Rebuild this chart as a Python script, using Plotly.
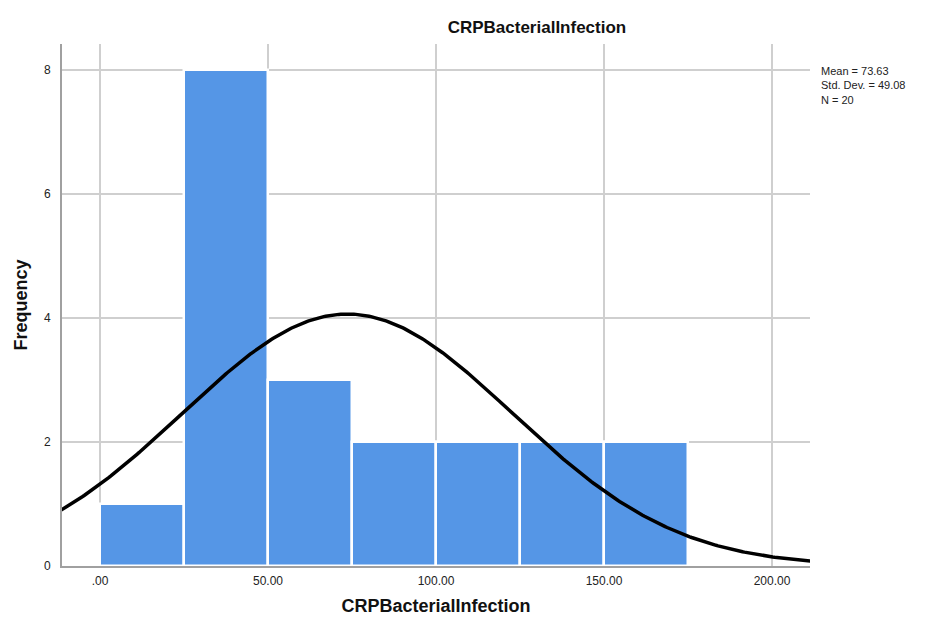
import numpy as np
import plotly.graph_objects as go

# Data
bin_starts = [0, 25, 50, 75, 100, 125, 150]
bin_width = 25
frequencies = [1, 8, 3, 2, 2, 2, 2]
mean_val = 73.63
sd_val = 49.08
n_val = 20
x_tick_vals = [0, 50, 100, 150, 200]
x_tick_text = [".00", "50.00", "100.00", "150.00", "200.00"]
y_tick_vals = [0, 2, 4, 6, 8]

centers = [s + bin_width / 2 for s in bin_starts]

xs = np.linspace(-12, 212, 400)
ys = n_val * bin_width / (sd_val * np.sqrt(2 * np.pi)) * np.exp(-0.5 * ((xs - mean_val) / sd_val) ** 2)

fig = go.Figure()
fig.add_trace(go.Bar(
    x=centers, y=frequencies, width=[bin_width] * len(centers),
    marker=dict(color="#5596E6", line=dict(color="white", width=2.5)),
    showlegend=False, hoverinfo="x+y",
))
fig.add_trace(go.Scatter(
    x=xs, y=ys, mode="lines", line=dict(color="black", width=3.5),
    showlegend=False, hoverinfo="skip",
))

fig.update_layout(
    width=928, height=626,
    margin=dict(l=54, r=126, t=36, b=68),
    paper_bgcolor="white", plot_bgcolor="white",
    font=dict(family="Liberation Sans, Arial, sans-serif", color="#222"),
    bargap=0,
    title=dict(text="<b>CRPBacterialInfection</b>", x=0.570, xanchor="center", y=0.97, yanchor="middle",
               font=dict(size=17, color="#111")),
    xaxis=dict(
        range=[-11.3, 211.3], tickvals=x_tick_vals, ticktext=x_tick_text,
        showgrid=True, gridcolor="#cfcfcf", gridwidth=1.5,
        showline=True, linecolor="#a0a0a0", linewidth=2,
        zeroline=False, ticks="", tickfont=dict(size=12, color="#222"),
        ticklabelstandoff=3,
        title=dict(text="<b>CRPBacterialInfection</b>", font=dict(size=18, color="#111"), standoff=12),
    ),
    yaxis=dict(
        range=[0, 8.42], tickvals=y_tick_vals,
        showgrid=True, gridcolor="#cfcfcf", gridwidth=1.5,
        showline=True, linecolor="#a0a0a0", linewidth=2,
        zeroline=False, ticks="", tickfont=dict(size=12, color="#222"),
        ticklabelstandoff=7,
        title=dict(text="<b>Frequency</b>", font=dict(size=18, color="#111"), standoff=12),
    ),
    annotations=[dict(
        xref="paper", yref="paper", x=1.012, y=0.963, xanchor="left", yanchor="top",
        align="left", showarrow=False,
        text="Mean = %.2f<br>Std. Dev. = %.2f<br>N = %d" % (mean_val, sd_val, n_val),
        font=dict(size=11, color="#222"),
    )],
)

fig.write_html("out.html")
